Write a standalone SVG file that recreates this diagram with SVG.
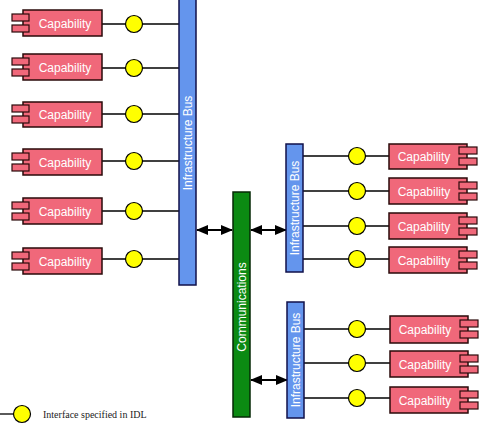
<svg xmlns="http://www.w3.org/2000/svg" width="479" height="424" viewBox="0 0 479 424">
<style>
.body{fill:#f0687a;stroke:#2a0a0a;stroke-width:1.5}
.tab{fill:#f0687a;stroke:#2a0a0a;stroke-width:1.2}
.cap{font-family:"Liberation Sans",Arial,sans-serif;font-size:12px;fill:#fff;text-anchor:middle}
.bus{fill:#6495ed;stroke:#10104a;stroke-width:1.5}
.comm{fill:#0b8a12;stroke:#062806;stroke-width:1.5}
.vt{font-family:"Liberation Sans",Arial,sans-serif;font-size:12px;fill:#fff;text-anchor:middle}
.iface{fill:#ffff00;stroke:#000;stroke-width:1.2}
.wire{stroke:#000;stroke-width:1.3;fill:none}
.arr{stroke:#000;stroke-width:2;fill:none;marker-start:url(#ah);marker-end:url(#ah)}
.legend{font-family:"Liberation Serif","Times New Roman",serif;font-size:10px;fill:#222}
</style>
<defs>
<marker id="ah" viewBox="0 0 12 10" refX="11" refY="5" markerWidth="12" markerHeight="10" markerUnits="userSpaceOnUse" orient="auto-start-reverse">
<path d="M0,0 L12,5 L0,10 Z" fill="#000"/>
</marker>
</defs>

<g id="connectors">
<line class="wire" x1="102" y1="24" x2="179" y2="24"/>
<line class="wire" x1="102" y1="68" x2="179" y2="68"/>
<line class="wire" x1="102" y1="114" x2="179" y2="114"/>
<line class="wire" x1="102" y1="161" x2="179" y2="161"/>
<line class="wire" x1="102" y1="211" x2="179" y2="211"/>
<line class="wire" x1="102" y1="259" x2="179" y2="259"/>
<line class="wire" x1="303" y1="156" x2="389" y2="156"/>
<line class="wire" x1="303" y1="191" x2="389" y2="191"/>
<line class="wire" x1="303" y1="226" x2="389" y2="226"/>
<line class="wire" x1="303" y1="259" x2="389" y2="259"/>
<line class="wire" x1="304" y1="329" x2="390" y2="329"/>
<line class="wire" x1="304" y1="363" x2="390" y2="363"/>
<line class="wire" x1="304" y1="398" x2="390" y2="398"/>
<line class="arr" x1="197" y1="230" x2="232" y2="230"/>
<line class="arr" x1="251" y1="230" x2="286" y2="230"/>
<line class="arr" x1="251" y1="380" x2="287" y2="380"/>
<line class="wire" x1="0" y1="414" x2="13" y2="414"/>
</g>

<g id="bus-left">
<rect class="bus" x="179" y="-2" width="17" height="287"/>
<text class="vt" transform="translate(191.5,143) rotate(-90)">Infrastructure Bus</text>
</g>
<g id="bus-right-top">
<rect class="bus" x="286" y="144" width="17" height="128"/>
<text class="vt" transform="translate(298.5,208) rotate(-90)">Infrastructure Bus</text>
</g>
<g id="bus-right-bottom">
<rect class="bus" x="287" y="302" width="17" height="116"/>
<text class="vt" transform="translate(299.5,360) rotate(-90)">Infrastructure Bus</text>
</g>
<g id="communications">
<rect class="comm" x="233" y="192" width="17" height="225"/>
<text class="vt" transform="translate(245.5,307) rotate(-90)">Communications</text>
</g>

<g id="cap-l1"><rect class="body" x="23" y="10" width="79" height="26"/><rect class="tab" x="12" y="14" width="17" height="7"/><rect class="tab" x="12" y="25" width="17" height="7"/><text class="cap" x="65" y="28">Capability</text></g>
<g id="cap-l2"><rect class="body" x="23" y="54" width="79" height="26"/><rect class="tab" x="12" y="58" width="17" height="7"/><rect class="tab" x="12" y="69" width="17" height="7"/><text class="cap" x="65" y="72">Capability</text></g>
<g id="cap-l3"><rect class="body" x="23" y="102" width="79" height="25"/><rect class="tab" x="12" y="105" width="17" height="7"/><rect class="tab" x="12" y="116" width="17" height="7"/><text class="cap" x="65" y="119">Capability</text></g>
<g id="cap-l4"><rect class="body" x="23" y="149" width="79" height="26"/><rect class="tab" x="12" y="153" width="17" height="7"/><rect class="tab" x="12" y="164" width="17" height="7"/><text class="cap" x="65" y="167">Capability</text></g>
<g id="cap-l5"><rect class="body" x="23" y="198" width="79" height="26"/><rect class="tab" x="12" y="202" width="17" height="7"/><rect class="tab" x="12" y="213" width="17" height="7"/><text class="cap" x="65" y="216">Capability</text></g>
<g id="cap-l6"><rect class="body" x="23" y="248" width="79" height="26"/><rect class="tab" x="12" y="252" width="17" height="7"/><rect class="tab" x="12" y="263" width="17" height="7"/><text class="cap" x="65" y="266">Capability</text></g>

<g id="cap-r1"><rect class="body" x="389" y="144" width="78" height="25"/><rect class="tab" x="459" y="147" width="18" height="7"/><rect class="tab" x="459" y="158" width="18" height="7"/><text class="cap" x="424" y="161">Capability</text></g>
<g id="cap-r2"><rect class="body" x="389" y="178" width="78" height="26"/><rect class="tab" x="459" y="182" width="18" height="7"/><rect class="tab" x="459" y="193" width="18" height="7"/><text class="cap" x="424" y="196">Capability</text></g>
<g id="cap-r3"><rect class="body" x="389" y="213" width="78" height="26"/><rect class="tab" x="459" y="217" width="18" height="7"/><rect class="tab" x="459" y="228" width="18" height="7"/><text class="cap" x="424" y="231">Capability</text></g>
<g id="cap-r4"><rect class="body" x="389" y="247" width="78" height="26"/><rect class="tab" x="459" y="251" width="18" height="7"/><rect class="tab" x="459" y="262" width="18" height="7"/><text class="cap" x="424" y="265">Capability</text></g>
<g id="cap-r5"><rect class="body" x="390" y="316" width="78" height="27"/><rect class="tab" x="460" y="320" width="18" height="7"/><rect class="tab" x="460" y="331" width="18" height="7"/><text class="cap" x="425" y="334">Capability</text></g>
<g id="cap-r6"><rect class="body" x="390" y="351" width="78" height="26"/><rect class="tab" x="460" y="355" width="18" height="7"/><rect class="tab" x="460" y="366" width="18" height="7"/><text class="cap" x="425" y="369">Capability</text></g>
<g id="cap-r7"><rect class="body" x="390" y="387" width="78" height="26"/><rect class="tab" x="460" y="391" width="18" height="7"/><rect class="tab" x="460" y="402" width="18" height="7"/><text class="cap" x="425" y="405">Capability</text></g>

<g id="if-l1"><circle class="iface" cx="134" cy="24" r="8.5"/></g>
<g id="if-l2"><circle class="iface" cx="134" cy="68" r="8.5"/></g>
<g id="if-l3"><circle class="iface" cx="134" cy="114" r="8.5"/></g>
<g id="if-l4"><circle class="iface" cx="134" cy="161" r="8.5"/></g>
<g id="if-l5"><circle class="iface" cx="134" cy="211" r="8.5"/></g>
<g id="if-l6"><circle class="iface" cx="134" cy="259" r="8.5"/></g>
<g id="if-r1"><circle class="iface" cx="357" cy="156" r="8.5"/></g>
<g id="if-r2"><circle class="iface" cx="357" cy="191" r="8.5"/></g>
<g id="if-r3"><circle class="iface" cx="357" cy="226" r="8.5"/></g>
<g id="if-r4"><circle class="iface" cx="357" cy="259" r="8.5"/></g>
<g id="if-r5"><circle class="iface" cx="357" cy="329" r="8.5"/></g>
<g id="if-r6"><circle class="iface" cx="357" cy="363" r="8.5"/></g>
<g id="if-r7"><circle class="iface" cx="357" cy="398" r="8.5"/></g>

<g id="legend">
<circle class="iface" cx="22" cy="414" r="8.5"/>
<text class="legend" x="43" y="418">Interface specified in IDL</text>
</g>
</svg>
